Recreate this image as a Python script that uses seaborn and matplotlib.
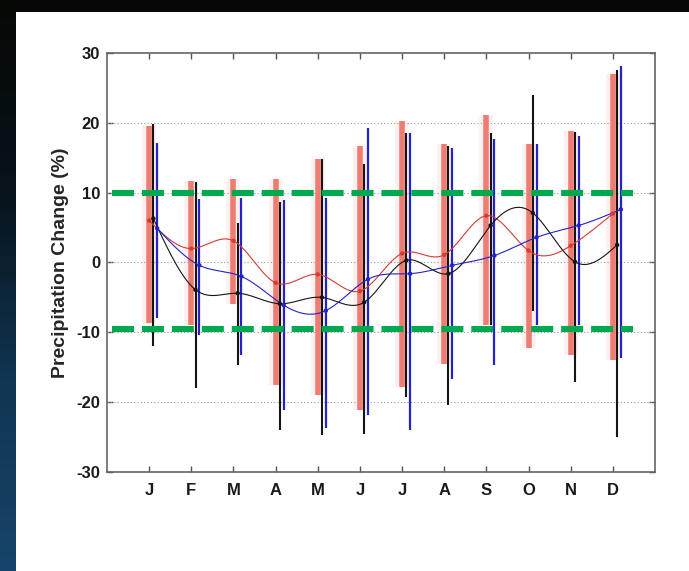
import numpy as np
import pandas as pd
import matplotlib
matplotlib.use("Agg")
import matplotlib.pyplot as plt
from matplotlib.patches import Rectangle
from matplotlib.colors import LinearSegmentedColormap
import seaborn as sns

# Monthly precipitation change (%) from three model ensembles
months = ["J", "F", "M", "A", "M", "J", "J", "A", "S", "O", "N", "D"]

red_hi = [19.6, 11.7, 12.0, 12.0, 14.8, 16.7, 20.3, 17.0, 21.1, 17.0, 18.9, 27.0]
red_lo = [-8.7, -9.0, -5.9, -17.6, -19.0, -21.1, -17.8, -14.5, -9.0, -12.3, -13.3, -14.0]
red_mean = [6.0, 2.0, 3.1, -2.9, -1.7, -4.1, 1.3, 1.1, 6.7, 1.7, 2.4, 7.0]

blk_hi = [19.9, 11.5, 5.7, 8.7, 14.8, 14.1, 18.6, 16.7, 18.6, 24.0, 18.7, 27.6]
blk_lo = [-11.9, -18.0, -14.7, -24.0, -24.7, -24.5, -19.2, -20.4, -9.0, -6.9, -17.1, -25.0]
blk_mean = [6.3, -3.9, -4.4, -5.9, -5.0, -5.7, 0.3, -1.6, 5.3, 7.1, 0.1, 2.5]

blu_hi = [17.1, 9.1, 9.3, 8.9, 9.3, 19.3, 18.5, 16.4, 17.7, 16.9, 18.1, 28.1]
blu_lo = [-8.0, -10.4, -13.3, -21.1, -23.7, -21.9, -24.0, -16.7, -14.7, -9.0, -8.9, -13.7]
blu_mean = [4.9, -0.4, -2.0, -6.1, -6.9, -2.4, -1.6, -0.4, 1.0, 3.6, 5.3, 7.6]

# Reference band
band_hi = 10.0
band_lo = -9.5

RED = "#ef7c72"
BLACK = "#151515"
BLUE = "#2323c8"
GREEN = "#00a84f"


def spline(x, y, n=300):
    """Natural cubic spline through (x, y) for a smooth line."""
    x = np.asarray(x, float)
    y = np.asarray(y, float)
    k = len(x)
    h = np.diff(x)
    A = np.zeros((k, k))
    b = np.zeros(k)
    A[0, 0] = A[-1, -1] = 1.0
    for i in range(1, k - 1):
        A[i, i - 1] = h[i - 1]
        A[i, i] = 2 * (h[i - 1] + h[i])
        A[i, i + 1] = h[i]
        b[i] = 6 * ((y[i + 1] - y[i]) / h[i] - (y[i] - y[i - 1]) / h[i - 1])
    M = np.linalg.solve(A, b)
    xs = np.linspace(x[0], x[-1], n)
    idx = np.clip(np.searchsorted(x, xs) - 1, 0, k - 2)
    x0, x1 = x[idx], x[idx + 1]
    hh = x1 - x0
    t0, t1 = x1 - xs, xs - x0
    ys = (M[idx] * t0 ** 3 / (6 * hh) + M[idx + 1] * t1 ** 3 / (6 * hh)
          + (y[idx] / hh - M[idx] * hh / 6) * t0
          + (y[idx + 1] / hh - M[idx + 1] * hh / 6) * t1)
    return xs, ys


sns.set_theme(style="white")
plt.rcParams["font.family"] = ["Liberation Sans", "DejaVu Sans"]
plt.rcParams["font.weight"] = "bold"
plt.rcParams["axes.unicode_minus"] = False

W, H = 689, 571
fig = plt.figure(figsize=(W / 100, H / 100), dpi=100)
fig.patch.set_facecolor("#060805")

# dark blue strip along the left edge
gax = fig.add_axes([0, 0, 16 / W, 1])
cmap = LinearSegmentedColormap.from_list("edge", ["#060805", "#07121a", "#103552", "#17446a"])
gax.imshow(np.linspace(0, 1, 256)[:, None], aspect="auto", cmap=cmap, origin="upper")
gax.set_axis_off()

# white panel
fig.add_artist(Rectangle((16 / W, 0), 1 - 16 / W, 1 - 12 / H,
                         transform=fig.transFigure, facecolor="white",
                         edgecolor="none", zorder=-5))

ax = fig.add_axes([107 / W, 1 - 472 / H, (655 - 107) / W, (472 - 53) / H])
ax.set_facecolor("white")

x = np.arange(1, 13)
df = pd.DataFrame({"month": x,
                   "red_hi": red_hi, "red_lo": red_lo, "red_mean": red_mean,
                   "blk_hi": blk_hi, "blk_lo": blk_lo, "blk_mean": blk_mean,
                   "blu_hi": blu_hi, "blu_lo": blu_lo, "blu_mean": blu_mean})

off = {"red": 0.0, "blk": 0.10, "blu": 0.19}

# range bars
ax.vlines(df["month"] + off["red"], df["red_lo"], df["red_hi"], color=RED, lw=10, alpha=0.10, zorder=2)
ax.vlines(df["month"] + off["red"], df["red_lo"], df["red_hi"], color=RED, lw=4.0, zorder=3)
ax.vlines(df["month"] + off["blk"], df["blk_lo"], df["blk_hi"], color=BLACK, lw=1.5, zorder=4)
ax.vlines(df["month"] + off["blu"], df["blu_lo"], df["blu_hi"], color=BLUE, lw=1.6, zorder=5)

# smooth mean curves with monthly markers
for key, col in [("red", "#d83a32"), ("blk", BLACK), ("blu", BLUE)]:
    xs, ys = spline(df["month"] + off[key], df[key + "_mean"])
    ax.plot(xs, ys, color=col, lw=0.8, zorder=6)
    sns.scatterplot(x=df["month"] + off[key], y=df[key + "_mean"], ax=ax,
                    color=col, s=10, edgecolor="none", zorder=7, legend=False)

# dashed reference band
for yv in (band_hi, band_lo):
    ax.plot([0.13, 12.47], [yv, yv], color=GREEN, lw=4.4,
            dashes=(3.6, 1.3), solid_capstyle="butt", dash_capstyle="butt", zorder=8)

ax.set_xlim(0, 13)
ax.set_ylim(-30, 30)
ax.set_xticks(x)
ax.set_xticklabels(months)
ax.set_yticks(np.arange(-30, 31, 10))
ax.set_xlabel("")
ax.set_ylabel("Precipitation Change (%)", fontsize=14, fontweight="bold", labelpad=5)

for yv in np.arange(-20, 21, 10):
    ax.axhline(yv, color="#9a9a9a", lw=0.8, ls=(0, (1, 2)), zorder=1)

ax.tick_params(axis="both", which="both", direction="in", length=4, width=1,
               color="#555555", top=True, right=True, bottom=True, left=True,
               labelsize=12)
ax.tick_params(axis="x", pad=8)
ax.tick_params(axis="y", pad=5)
for lab in ax.get_xticklabels() + ax.get_yticklabels():
    lab.set_fontweight("bold")
    lab.set_color("#1a1a1a")
for s in ax.spines.values():
    s.set_color("#666666")
    s.set_linewidth(1.2)

fig.savefig("out.png", dpi=100, facecolor=fig.get_facecolor())
